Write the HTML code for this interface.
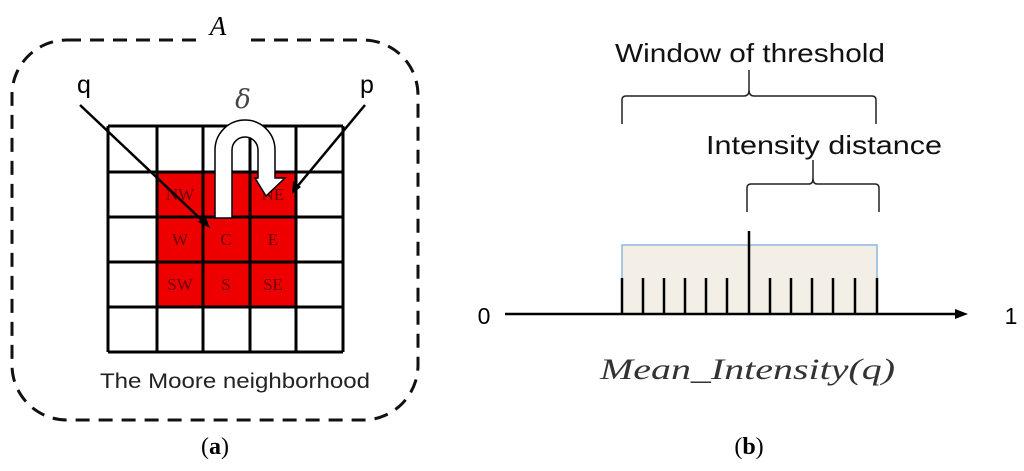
<!DOCTYPE html>
<html><head><style>body{margin:0;background:#fff}</style></head><body>
<svg width="1024" height="466" xmlns="http://www.w3.org/2000/svg">
<rect x="12" y="40" width="406" height="380" rx="55" fill="none" stroke="#111" stroke-width="3" stroke-dasharray="14,9"/>
<rect x="198" y="18" width="44" height="30" fill="#fff"/>
<text x="218" y="35" font-family="Liberation Serif" font-style="italic" font-size="27" text-anchor="middle">A</text>
<rect x="157" y="172" width="139" height="135" fill="#ee0000"/>
<g stroke="#000" stroke-width="3">
<line x1="108" y1="126" x2="108" y2="352"/><line x1="157" y1="126" x2="157" y2="352"/><line x1="203" y1="126" x2="203" y2="352"/><line x1="250" y1="126" x2="250" y2="352"/><line x1="296" y1="126" x2="296" y2="352"/><line x1="343" y1="126" x2="343" y2="352"/>
<line x1="108" y1="126" x2="343" y2="126"/><line x1="108" y1="172" x2="343" y2="172"/><line x1="108" y1="217" x2="343" y2="217"/><line x1="108" y1="262" x2="343" y2="262"/><line x1="108" y1="307" x2="343" y2="307"/><line x1="108" y1="352" x2="343" y2="352"/>
</g>
<g font-family="Liberation Serif" font-size="17" fill="#600" text-anchor="middle">
<text x="180" y="200">NW</text><text x="273" y="200">NE</text>
<text x="180" y="245">W</text><text x="226" y="245">C</text><text x="273" y="245">E</text>
<text x="180" y="290">SW</text><text x="226" y="290">S</text><text x="273" y="290">SE</text>
</g>
<g stroke="#000" stroke-width="2.5">
<line x1="80" y1="105" x2="206" y2="224"/><line x1="365" y1="105" x2="296" y2="188"/>
</g>
<polygon points="210,228 198,222 205,215" fill="#000"/>
<polygon points="292,194 293,181 301,187" fill="#000"/>
<path d="M215,218 L215,150 A30,30 0 0 1 275,150 L275,178 L285,178 L266,196 L255,178 L258,178 L258,150 A13,13 0 0 0 232,150 L232,218 Z" fill="#fff" stroke="#000" stroke-width="1.5"/>
<text x="243" y="108" font-family="DejaVu Serif" font-style="italic" font-size="26" fill="#444" text-anchor="middle">δ</text>
<text x="84" y="93" font-family="Liberation Sans" font-size="25" text-anchor="middle">q</text>
<text x="367" y="93" font-family="Liberation Sans" font-size="25" text-anchor="middle">p</text>
<text x="100" y="388" font-family="Liberation Sans" font-size="21" fill="#222" textLength="270" lengthAdjust="spacingAndGlyphs">The Moore neighborhood</text>
<text x="215" y="454" font-family="Liberation Serif" font-size="24" text-anchor="middle">(<tspan font-weight="bold">a</tspan>)</text>

<rect x="622" y="245" width="255" height="69" fill="#f3efe6"/>
<polyline points="622,278 622,245 877,245 877,278" fill="none" stroke="#8fb5dc" stroke-width="1.5"/>
<line x1="505" y1="314" x2="960" y2="314" stroke="#000" stroke-width="2.5"/>
<polygon points="968,314 955,309 955,319" fill="#000"/>
<g stroke="#000" stroke-width="2.5">
<line x1="622" y1="278" x2="622" y2="314"/><line x1="643" y1="278" x2="643" y2="314"/><line x1="664" y1="278" x2="664" y2="314"/><line x1="685" y1="278" x2="685" y2="314"/><line x1="706" y1="278" x2="706" y2="314"/><line x1="727" y1="278" x2="727" y2="314"/>
<line x1="749" y1="231" x2="749" y2="314"/>
<line x1="770" y1="278" x2="770" y2="314"/><line x1="791" y1="278" x2="791" y2="314"/><line x1="812" y1="278" x2="812" y2="314"/><line x1="833" y1="278" x2="833" y2="314"/><line x1="855" y1="278" x2="855" y2="314"/><line x1="877" y1="278" x2="877" y2="314"/>
</g>
<g fill="none" stroke="#222" stroke-width="1.5">
<path d="M622,124 L622,100 Q622,96 626,96 L744,96 Q749,96 749,90 L749,70 M749,90 Q749,96 754,96 L872,96 Q876,96 876,100 L876,124"/>
<path d="M747,212 L747,188 Q747,184 751,184 L809,184 Q813,184 813,178 L813,160 M813,178 Q813,184 817,184 L875,184 Q879,184 879,188 L879,212"/>
</g>
<text x="615" y="62" font-family="Liberation Sans" font-size="26" fill="#111" textLength="270" lengthAdjust="spacingAndGlyphs">Window of threshold</text>
<text x="706" y="154" font-family="Liberation Sans" font-size="26" fill="#111" textLength="236" lengthAdjust="spacingAndGlyphs">Intensity distance</text>
<text x="484" y="324" font-family="Liberation Sans" font-size="23" text-anchor="middle">0</text>
<text x="1011" y="324" font-family="Liberation Sans" font-size="23" text-anchor="middle">1</text>
<text x="600" y="379" font-family="Liberation Serif" font-style="italic" font-size="30" fill="#333" textLength="295" lengthAdjust="spacingAndGlyphs">Mean_Intensity(q)</text>
<text x="749" y="454" font-family="Liberation Serif" font-size="24" text-anchor="middle">(<tspan font-weight="bold">b</tspan>)</text>
</svg>
</body></html>
